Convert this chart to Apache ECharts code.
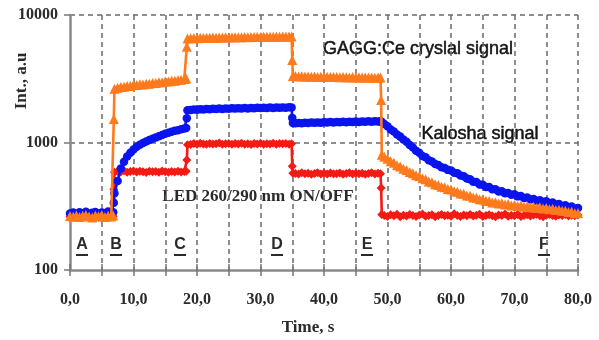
<!DOCTYPE html>
<html>
<head>
<meta charset="utf-8">
<script src="https://cdn.jsdelivr.net/npm/echarts@6/dist/echarts.min.js"></script>
<style>
  html, body { margin: 0; padding: 0; background: #fff; }
  #chart { width: 599px; height: 340px; }
</style>
</head>
<body>
<div id="chart"></div>
<script>
// Sample times, s (0.5 s steps, denser around the LED switching moments)
const time = [
  0, 0.5, 1, 1.5, 2, 2.5, 3, 3.5, 4, 4.5, 5, 5.5, 6, 6.5, 6.8,
  6.9, 7.0,
  7.5, 8, 8.5, 9, 9.5, 10, 10.5, 11, 11.5, 12, 12.5, 13, 13.5, 14, 14.5, 15, 15.5, 16, 16.5, 17, 17.5, 18, 18.3,
  18.4, 18.5,
  19, 19.5, 20, 20.5, 21, 21.5, 22, 22.5, 23, 23.5, 24, 24.5, 25, 25.5, 26, 26.5, 27, 27.5, 28, 28.5, 29, 29.5, 30, 30.5, 31, 31.5, 32, 32.5, 33, 33.5, 34, 34.5, 34.9,
  35.0, 35.1,
  35.5, 36, 36.5, 37, 37.5, 38, 38.5, 39, 39.5, 40, 40.5, 41, 41.5, 42, 42.5, 43, 43.5, 44, 44.5, 45, 45.5, 46, 46.5, 47, 47.5, 48, 48.5, 48.9,
  49.0, 49.1,
  49.5, 50, 50.5, 51, 51.5, 52, 52.5, 53, 53.5, 54, 54.5, 55, 55.5, 56, 56.5, 57, 57.5, 58, 58.5, 59,
  59.5, 60, 60.5, 61, 61.5, 62, 62.5, 63, 63.5, 64, 64.5, 65, 65.5, 66, 66.5, 67, 67.5, 68, 68.5, 69,
  69.5, 70, 70.5, 71, 71.5, 72, 72.5, 73, 73.5, 74, 74.5, 75, 75.5, 76, 76.5, 77, 77.5, 78, 78.5, 79,
  79.5, 80
];

// GAGG:Ce crystal signal, a.u.
const gaggSignal = [
  265, 262, 268, 260, 266, 270, 263, 258, 267, 264, 270, 261, 266, 263, 268,
  1530, 2640,
  2690, 2730, 2735, 2770, 2780, 2820, 2825, 2860, 2850, 2890, 2895, 2930, 2930, 2970, 2975, 3010, 3015, 3050, 3055, 3095, 3105, 3150, 3170,
  5640, 6550,
  6580, 6600, 6570, 6620, 6610, 6640, 6620, 6650, 6640, 6670, 6650, 6680, 6670, 6690, 6680, 6700, 6690, 6720, 6700, 6730, 6710, 6740, 6730, 6750, 6740, 6760, 6750, 6770, 6760, 6780, 6770, 6790, 6780,
  4440, 3330,
  3320, 3300, 3310, 3290, 3300, 3280, 3290, 3270, 3280, 3260, 3280, 3270, 3260, 3270, 3250, 3260, 3250, 3240, 3260, 3240, 3250, 3230, 3240, 3230, 3240, 3220, 3230, 3230,
  2150, 800,
  772, 745, 714, 694, 664, 648, 622, 608, 586, 574, 553, 543, 524, 514, 495, 488, 471, 465, 450, 445,
  431, 427, 414, 411, 398, 396, 384, 383, 371, 369, 359, 357, 349, 348, 339, 340, 332, 334, 326, 329,
  321, 324, 317, 320, 313, 316, 310, 313, 307, 310, 304, 307, 300, 302, 296, 297, 291, 292, 285, 286,
  279, 280
];

// Kalosha signal, a.u.
const kaloshaSignal = [
  278, 282, 275, 284, 279, 286, 276, 281, 285, 277, 283, 279, 287, 280, 284,
  337, 400,
  500, 625, 705, 775, 830, 880, 925, 960, 990, 1020, 1045, 1070, 1095, 1120, 1145, 1170, 1190, 1215, 1235, 1250, 1270, 1285, 1300,
  1550, 1790,
  1800, 1815, 1805, 1825, 1815, 1830, 1820, 1840, 1830, 1845, 1835, 1850, 1840, 1855, 1845, 1860, 1850, 1862, 1852, 1868, 1858, 1870, 1862, 1875, 1865, 1878, 1868, 1882, 1872, 1885, 1876, 1888, 1880,
  1560, 1425,
  1415, 1425, 1418, 1430, 1422, 1435, 1426, 1438, 1430, 1442, 1434, 1445, 1437, 1448, 1440, 1452, 1443, 1455, 1446, 1458, 1450, 1462, 1453, 1465, 1456, 1468, 1460, 1465,
  1458, 1440,
  1395, 1340, 1265, 1220, 1155, 1112, 1055, 1015, 955, 915, 862, 830, 785, 765, 725, 710, 678, 666, 640, 632,
  610, 603, 580, 574, 551, 544, 521, 514, 493, 489, 469, 466, 448, 447, 430, 429, 413, 414, 400, 402,
  389, 392, 378, 380, 367, 370, 357, 361, 349, 353, 341, 346, 334, 338, 326, 330, 318, 322, 311, 315,
  304, 307
];

// LED 260/290 nm excitation (ON/OFF), a.u.
const ledSignal = [
  262, 266, 259, 268, 263, 260, 267, 262, 264, 259, 266, 261, 265, 260, 264,
  430, 585,
  595, 588, 600, 585, 592, 598, 586, 594, 590, 583, 596, 589, 592, 585, 598, 590, 584, 593, 588, 596, 587, 591, 594,
  730, 960,
  965, 980, 970, 985, 975, 968, 982, 972, 978, 990, 970, 976, 984, 968, 980, 974, 986, 971, 978, 965, 982, 975, 988, 970, 979, 973, 985, 969, 980, 976, 983, 970, 978,
  650, 575,
  572, 566, 578, 569, 575, 563, 571, 579, 567, 573, 565, 577, 570, 568, 576, 564, 572, 580, 566, 574, 569, 575, 563, 571, 578, 567, 573, 570,
  440, 272,
  268, 263, 271, 266, 274, 262, 269, 265, 272, 267, 263, 270, 275, 264, 268, 271, 262, 267, 273, 266,
  269, 264, 276, 268, 263, 270, 266, 272, 265, 269, 274, 263, 268, 271, 266, 262, 270, 267, 275, 264,
  269, 266, 272, 263, 268, 271, 265, 270, 274, 266, 262, 269, 272, 267, 264, 270, 268, 273, 265, 269,
  266, 270
];

// Axis ranges and tick steps
const timeMin = 0, timeMax = 80, timeStep = 5, timeLabelStep = 10;
const intMin = 100, intMax = 10000;

// Phase markers along the time axis
const phaseLabels = [
  { text: 'A', x: 82 }, { text: 'B', x: 116 }, { text: 'C', x: 180 },
  { text: 'D', x: 277 }, { text: 'E', x: 367 }, { text: 'F', x: 544 }
];

const pair = arr => time.map((t, i) => [t, arr[i]]);

const SERIF = '"Liberation Serif", "Times New Roman", serif';
const SANS = '"Liberation Sans", Arial, sans-serif';
const labelColor = '#2a2a2a';

const chart = echarts.init(document.getElementById('chart'), null, { renderer: 'canvas' });

const gridLine = { show: true, showMinLine: false, showMaxLine: true,
  lineStyle: { color: '#6a6a6a', width: 1.5, type: [5, 4] } };

function lineSeries(name, arr, color, symbol, size, z) {
  return {
    name, type: 'line', data: pair(arr), z,
    symbol, symbolSize: size, showSymbol: true, showAllSymbol: true,
    lineStyle: { color, width: 2.6 },
    itemStyle: { color, borderWidth: 0 },
    emphasis: { disabled: true },
    animation: false
  };
}

function centeredText(text, x, y, font, fill, extra) {
  return Object.assign({ type: 'text', x, y,
    style: Object.assign({ text, x: 0, y: 0, align: 'center', verticalAlign: 'middle',
      textAlign: 'center', textVerticalAlign: 'middle', font, fill }, extra || {}) });
}

const graphics = [
  Object.assign(centeredText('Int., a.u', 22, 81, 'bold 17px ' + SERIF, labelColor), { rotation: Math.PI / 2 }),
  centeredText('Time, s', 308, 328, 'bold 17px ' + SERIF, labelColor),
  centeredText('GAGG:Ce cryslal signal', 418, 49, '18px ' + SANS, '#151515',
    { stroke: '#151515', lineWidth: 0.5 }),
  centeredText('Kalosha signal', 480, 134, '18px ' + SANS, '#151515',
    { stroke: '#151515', lineWidth: 0.5 }),
  centeredText('LED 260/290 nm ON/OFF', 258, 197, 'bold 17px ' + SERIF, labelColor)
];

phaseLabels.forEach(p => {
  graphics.push(centeredText(p.text, p.x, 245, 'bold 16px ' + SANS, '#2a2a2a'));
  graphics.push({ type: 'rect', shape: { x: p.x - 6, y: 254, width: 12, height: 2 },
    style: { fill: '#2a2a2a' } });
});

chart.setOption({
  backgroundColor: '#ffffff',
  animation: false,
  grid: { left: 70, right: 21, top: 15, bottom: 70, containLabel: false },
  xAxis: [{
    type: 'value', min: timeMin, max: timeMax, interval: timeStep,
    axisLine: { show: true, lineStyle: { color: '#8a8a8a', width: 2.5 } },
    axisTick: { show: true, inside: false, length: 6, lineStyle: { color: '#777', width: 1.5 } },
    axisLabel: {
      margin: 22, color: labelColor, fontFamily: SERIF, fontWeight: 'bold', fontSize: 16,
      formatter: v => (v % timeLabelStep === 0 ? v.toFixed(1).replace('.', ',') : '')
    },
    splitLine: gridLine
  }, {
    type: 'value', position: 'bottom', min: timeMin, max: timeMax, interval: timeStep, offset: 0,
    axisLine: { show: false },
    axisTick: { show: true, inside: true, length: 6, lineStyle: { color: '#777', width: 1.5 } },
    axisLabel: { show: false }, splitLine: { show: false }
  }],
  yAxis: {
    type: 'log', logBase: 10, min: intMin, max: intMax,
    axisLine: { show: true, lineStyle: { color: '#8a8a8a', width: 2.5 } },
    axisTick: { show: true, length: 6, lineStyle: { color: '#777', width: 1.5 } },
    minorTick: { show: false },
    axisLabel: { margin: 12, color: labelColor, fontFamily: SERIF, fontWeight: 'bold', fontSize: 16,
      formatter: v => String(Math.round(v)) },
    splitLine: gridLine
  },
  series: [
    lineSeries('LED 260/290 nm ON/OFF', ledSignal, '#f51a14', 'diamond', 9, 2),
    lineSeries('Kalosha signal', kaloshaSignal, '#0a14f0', 'circle', 8.5, 3),
    lineSeries('GAGG:Ce cryslal signal', gaggSignal, '#ff7a1c', 'triangle', 10, 4)
  ],
  graphic: graphics
});
</script>
</body>
</html>
